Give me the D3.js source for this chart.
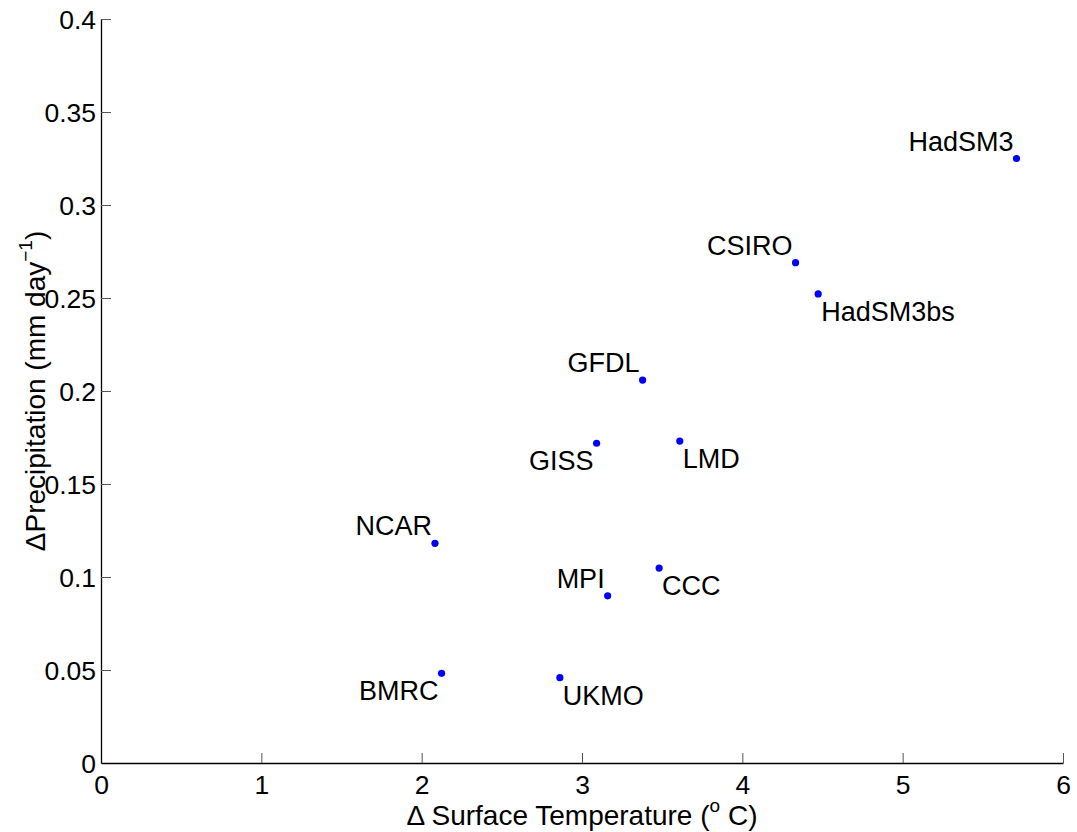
<!DOCTYPE html>
<html>
<head>
<meta charset="utf-8">
<script src="https://cdn.jsdelivr.net/npm/d3@7"></script>
<style>
  body { margin: 0; background: #fff; }
  svg text { font-family: "Liberation Sans", Arial, Helvetica, sans-serif; fill: #000; }
</style>
</head>
<body>
<div id="chart"></div>
<script>
// model names and their warming / precipitation change
var models = ["HadSM3", "CSIRO", "HadSM3bs", "GFDL", "GISS", "LMD", "NCAR", "MPI", "CCC", "BMRC", "UKMO"];
var dTemp  = [5.71, 4.332, 4.473, 3.378, 3.091, 3.61, 2.083, 3.16, 3.481, 2.124, 2.862];
var dPrecip = [0.325, 0.269, 0.2522, 0.2059, 0.1719, 0.1731, 0.1181, 0.0899, 0.1048, 0.0482, 0.0459];
// where each name sits relative to its dot
var labelSide = ["ul", "ul", "lr", "ul", "ll", "lr", "ul", "ul", "lr", "ll", "lr"];

var xTicks = [0, 1, 2, 3, 4, 5, 6];
var yTicks = [0, 0.05, 0.1, 0.15, 0.2, 0.25, 0.3, 0.35, 0.4];

var width = 1077, height = 832;
var margin = {top: 19, right: 14, bottom: 69, left: 101};

var svg = d3.select("#chart").append("svg")
    .attr("width", width)
    .attr("height", height);

var x = d3.scaleLinear().domain([0, 6]).range([margin.left, width - margin.right]);
var y = d3.scaleLinear().domain([0, 0.4]).range([height - margin.bottom, margin.top]);

// x axis (ticks point inward, like matlab)
var xAxis = svg.append("g")
    .attr("transform", "translate(0," + (height - margin.bottom) + ")")
    .call(d3.axisBottom(x).tickValues(xTicks).tickSizeInner(-10).tickSizeOuter(0)
      .tickFormat(d3.format("d")));
xAxis.select(".domain").attr("stroke", "#000").attr("stroke-width", 1.3);
xAxis.selectAll(".tick line").attr("stroke", "#555").attr("stroke-width", 1);
xAxis.selectAll(".tick text").attr("font-size", 26.5).attr("y", 12).attr("dy", "0.71em");

var yAxis = svg.append("g")
    .attr("transform", "translate(" + margin.left + ",0)")
    .call(d3.axisLeft(y).tickValues(yTicks).tickSizeInner(-10).tickSizeOuter(0)
      .tickFormat(function(d) { return d3.format("")(+d.toFixed(2)); }));
yAxis.select(".domain").attr("stroke", "#000").attr("stroke-width", 1.3);
yAxis.selectAll(".tick line").attr("stroke", "#555").attr("stroke-width", 1);
yAxis.selectAll(".tick text").attr("font-size", 26.5).attr("x", -5).attr("dy", "0.35em");
// skip tick lines at the corner
xAxis.selectAll(".tick").filter(function(d) { return d === 0; }).select("line").remove();
yAxis.selectAll(".tick").filter(function(d) { return d === 0; }).select("line").remove();

// axis titles
var xl = svg.append("text")
    .attr("x", (margin.left + width - margin.right) / 2)
    .attr("y", height - 7)
    .attr("text-anchor", "middle")
    .attr("font-size", 28);
xl.append("tspan").text("\u0394 Surface Temperature (");
xl.append("tspan").attr("dy", -13).attr("font-size", 19).text("o");
xl.append("tspan").attr("dy", 13).text(" C)");

var yl = svg.append("text")
    .attr("transform", "translate(45," + (margin.top + height - margin.bottom) / 2 + ") rotate(-90)")
    .attr("text-anchor", "middle")
    .attr("font-size", 28);
yl.append("tspan").text("\u0394Precipitation (mm day");
yl.append("tspan").attr("dy", -13).attr("font-size", 19).text("\u22121");
yl.append("tspan").attr("dy", 13).text(")");

var pts = models.map(function(m, i) {
  return {name: m, t: dTemp[i], p: dPrecip[i], side: labelSide[i]};
});

svg.selectAll("circle.pt")
  .data(pts)
  .enter().append("circle")
    .attr("class", "pt")
    .attr("cx", function(d) { return x(d.t); })
    .attr("cy", function(d) { return y(d.p); })
    .attr("r", 3.6)
    .attr("fill", "#0000ff");

svg.selectAll("text.lbl")
  .data(pts)
  .enter().append("text")
    .attr("class", "lbl")
    .attr("font-size", 27)
    .attr("text-anchor", function(d) { return d.side[1] === "l" ? "end" : "start"; })
    .attr("x", function(d) { return x(d.t) + (d.side[1] === "l" ? -3 : 3); })
    .attr("y", function(d) { return y(d.p) + (d.side[0] === "u" ? -8 : 27); })
    .text(function(d) { return d.name; });
</script>
</body>
</html>
